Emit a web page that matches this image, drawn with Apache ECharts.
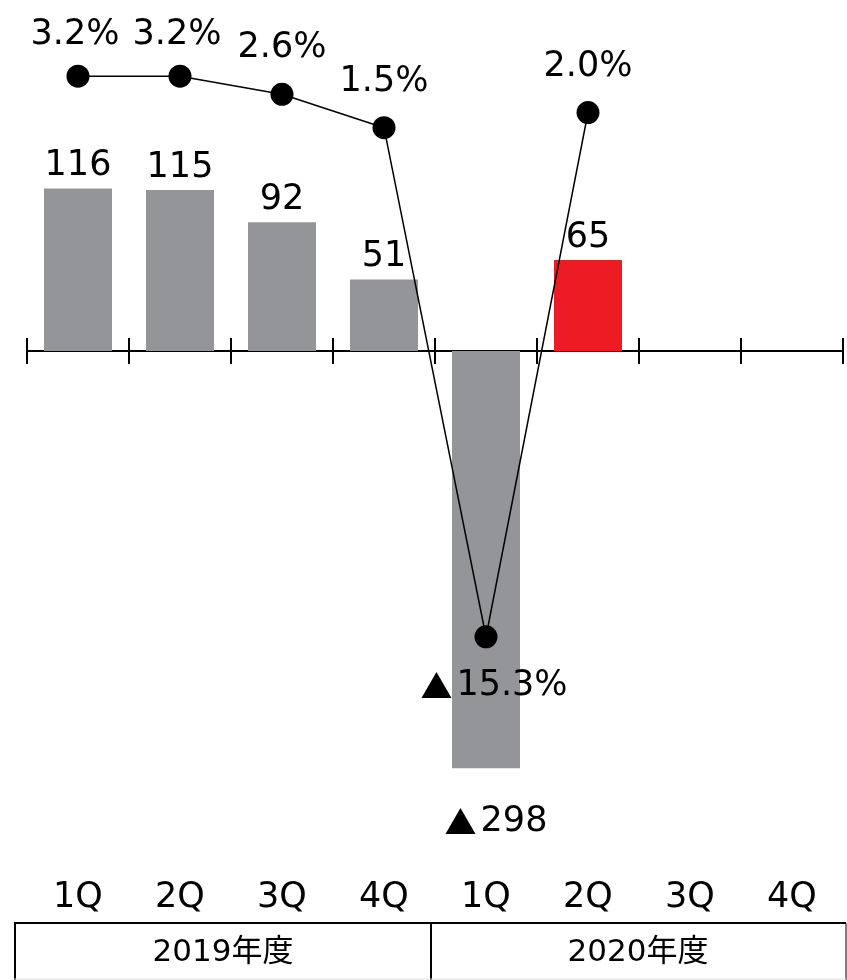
<!DOCTYPE html>
<html>
<head>
<meta charset="utf-8">
<script src="https://cdn.jsdelivr.net/npm/echarts@6/dist/echarts.min.js"></script>
<style>
html,body{margin:0;padding:0;background:#fff;}
#chart{width:847px;height:980px;}
</style>
</head>
<body>
<div id="chart"></div>
<script>
const quarters = ['1Q','2Q','3Q','4Q','1Q','2Q','3Q','4Q'];
const fiscalYears = ['2019年度','2020年度'];
const profitValues = [116, 115, 92, 51, -298, 65, null, null];
const growthValues = [3.2, 3.2, 2.6, 1.5, -15.3, 2.0, null, null];
const highlightIndex = 5;

const FONT = 'DejaVu Sans, Verdana, "Noto Sans CJK JP", sans-serif';
const CJK = '"Noto Sans CJK JP", sans-serif';
const GRAY = '#939598';
const RED = '#ED1C24';

const triRich = {t: {fontFamily: CJK, fontSize: 32, color: '#000', lineHeight: 40, padding: [0, 4, 0, 0]}};

function fmtNum(v){ return v < 0 ? '{t|▲}' + Math.abs(v) : String(v); }
function fmtPct(v){ return v < 0 ? '{t|▲}' + Math.abs(v).toFixed(1) + '%' : v.toFixed(1) + '%'; }

const chart = echarts.init(document.getElementById('chart'), null, {renderer:'canvas'});

const barData = profitValues.map((v,i) => {
  if (v === null) return null;
  const item = {value: v, itemStyle: {color: i === highlightIndex ? RED : GRAY}};
  if (v < 0) item.label = {position: 'bottom', distance: 34, offset: [10, 0]};
  return item;
});

const lineData = growthValues.map((v,i) => {
  if (v === null) return null;
  const item = {value: v};
  if (v < 0) item.label = {position: 'bottom', distance: 18, offset:[8,0]};
  else if (i < 2) item.label = {distance: 12, offset: [-3, 0]};
  return item;
});

const option = {
  animation: false,
  backgroundColor: '#fff',
  grid: {left: 27, right: 4, top: 1, height: 840, containLabel: false},
  xAxis: [
    {
      type: 'category', data: quarters, position: 'bottom',
      axisLine: {onZero: true, onZeroAxisIndex: 0, lineStyle: {color: '#000', width: 2}},
      axisTick: {show: true, inside: false, length: 13, interval: 0, lineStyle: {color: '#000', width: 2}},
      axisLabel: {show: false}, splitLine: {show: false}
    },
    {
      type: 'category', data: quarters, position: 'bottom',
      axisLine: {show: false, onZero: true, onZeroAxisIndex: 0},
      axisTick: {show: true, inside: true, length: 13, interval: 0, lineStyle: {color: '#000', width: 2}},
      axisLabel: {show: false}, splitLine: {show: false}
    },
    {
      type: 'category', data: quarters, position: 'bottom',
      axisLine: {show: false, onZero: false},
      axisTick: {show: false},
      axisLabel: {show: true, interval: 0, margin: 39, color: '#000', fontSize: 35, fontFamily: FONT},
      splitLine: {show: false}
    }
  ],
  yAxis: [
    {type: 'value', min: -350, max: 250, show: false, splitLine: {show: false}},
    {type: 'value', min: -22.04, max: 5.68, show: false, splitLine: {show: false}}
  ],
  series: [
    {
      type: 'bar', xAxisIndex: 0, yAxisIndex: 0, data: barData, barWidth: 68,
      label: {show: true, position: 'top', distance: 5, color: '#000', fontSize: 35, fontFamily: FONT,
        formatter: p => fmtNum(p.value), rich: triRich},
      z: 2
    },
    {
      type: 'line', xAxisIndex: 0, yAxisIndex: 1, data: lineData,
      symbol: 'circle', symbolSize: 23,
      lineStyle: {color: '#000', width: 1.5},
      itemStyle: {color: '#000'},
      label: {show: true, position: 'top', distance: 17, color: '#000', fontSize: 35, fontFamily: FONT,
        formatter: p => fmtPct(p.value), rich: triRich},
      z: 3
    }
  ],
  graphic: [
    {type: 'line', shape: {x1: 14, y1: 923, x2: 846, y2: 923}, style: {stroke: '#000', lineWidth: 2}},
    {type: 'line', shape: {x1: 15, y1: 923, x2: 15, y2: 980}, style: {stroke: '#000', lineWidth: 2}},
    {type: 'line', shape: {x1: 431, y1: 923, x2: 431, y2: 980}, style: {stroke: '#000', lineWidth: 2}},
    {type: 'line', shape: {x1: 846, y1: 923, x2: 846, y2: 980}, style: {stroke: '#000', lineWidth: 1}},
    {type: 'line', shape: {x1: 14, y1: 979, x2: 846, y2: 979}, style: {stroke: '#ddd', lineWidth: 1}},
    {type: 'text', x: 223, y: 953, style: {text: fiscalYears[0], fill: '#000', font: '31px ' + FONT, textAlign: 'center', textVerticalAlign: 'middle'}},
    {type: 'text', x: 638, y: 953, style: {text: fiscalYears[1], fill: '#000', font: '31px ' + FONT, textAlign: 'center', textVerticalAlign: 'middle'}}
  ]
};
chart.setOption(option);
</script>
</body>
</html>
